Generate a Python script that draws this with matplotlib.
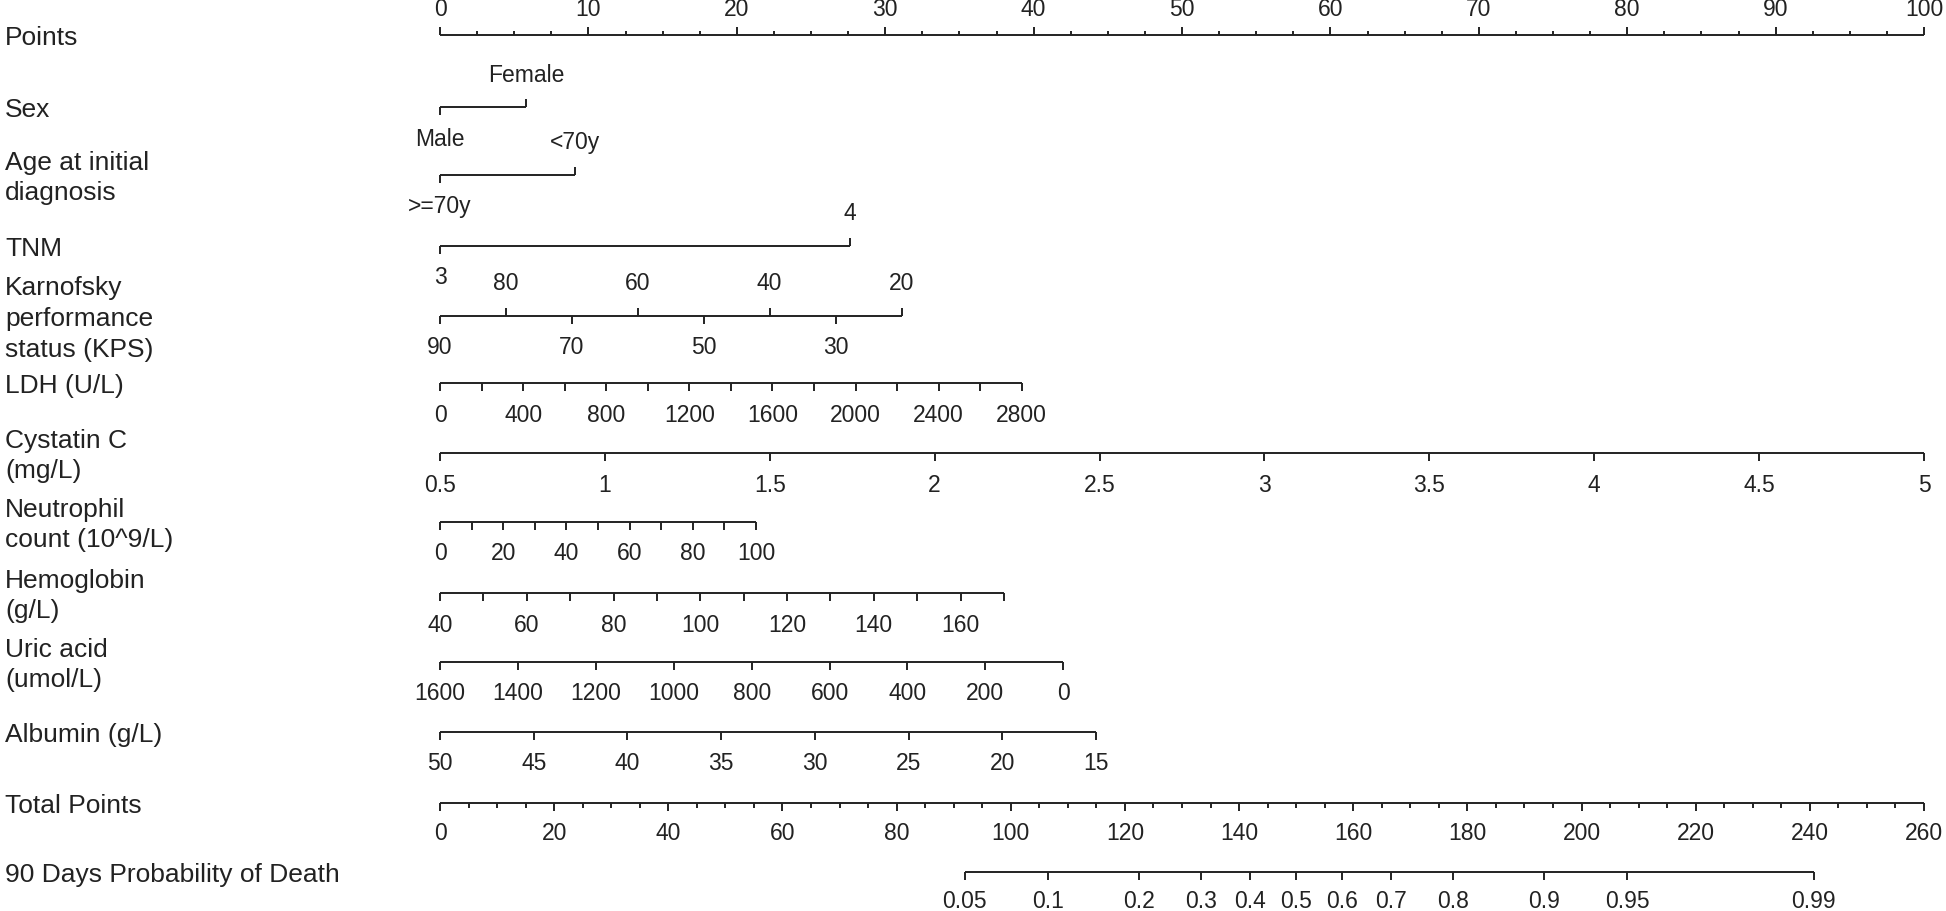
import numpy as np
import matplotlib.pyplot as plt

plt.rcParams['font.family'] = ['Liberation Sans', 'DejaVu Sans']

INK = "#222222"

# ---- values (points scale 0-100, total 0-260) ----
points_ticks = np.arange(0, 100.01, 2.5)
points_labels = list(range(0, 101, 10))
total_ticks = list(range(0, 261, 5))
total_labels = list(range(0, 261, 20))
total_max = 260

sex_labels = ["Male", "Female"]
sex_points = [0, 5.8]

age_labels = [">=70y", "<70y"]
age_points = [0, 9.1]

tnm_labels = ["3", "4"]
tnm_points = [0, 27.6]

kps_values = [90, 80, 70, 60, 50, 40, 30, 20]
kps_end = (90, 20, 31.1)          # value at 0 pts, value at end, end pts

ldh_ticks = list(range(0, 2801, 200))
ldh_labels = list(range(0, 2801, 400))
ldh_end = (0, 2800, 39.2)

cys_ticks = [0.5, 1, 1.5, 2, 2.5, 3, 3.5, 4, 4.5, 5]
cys_end = (0.5, 5, 100.0)

neut_ticks = list(range(0, 101, 10))
neut_labels = list(range(0, 101, 20))
neut_end = (0, 100, 21.3)

hgb_ticks = list(range(40, 171, 10))
hgb_labels = list(range(40, 161, 20))
hgb_end = (40, 170, 38.0)

uric_ticks = list(range(1600, -1, -200))
uric_end = (1600, 0, 42.0)

alb_ticks = [50, 45, 40, 35, 30, 25, 20, 15]
alb_end = (50, 15, 44.2)

prob_values = [0.05, 0.1, 0.2, 0.3, 0.4, 0.5, 0.6, 0.7, 0.8, 0.9, 0.95, 0.99]
prob_total = [91.9, 106.5, 122.5, 133.4, 141.9, 149.9, 158.1, 166.7, 177.5, 193.5, 208.0, 240.7]

row_names = ["Points", "Sex", "Age at initial\ndiagnosis", "TNM",
             "Karnofsky\nperformance\nstatus (KPS)", "LDH (U/L)", "Cystatin C\n(mg/L)",
             "Neutrophil\ncount (10^9/L)", "Hemoglobin\n(g/L)", "Uric acid\n(umol/L)",
             "Albumin (g/L)", "Total Points", "90 Days Probability of Death"]
row_y = [35, 107, 175, 246, 316, 383, 453, 522, 593, 662, 732, 803, 872]


def to_pts(v, end):
    v0, v1, p1 = end
    return (np.asarray(v, dtype=float) - v0) / (v1 - v0) * p1


def fmt(v):
    return ("%g" % v)


fig = plt.figure(figsize=(19.46, 9.11), dpi=100)
ax = fig.add_axes([0, 0, 1, 1])
px = 1484 / 100.0
ax.set_xlim(-440 / px, (1946 - 440) / px)
ax.set_ylim(911, 0)
ax.axis("off")

LW = 1.4
TL = 8      # tick length (px)
LAB_FS = 19
TICK_FS = 16.5


def scale(y, xs, labels=None, dirs=None, lens=None, label_off=32):
    xs = np.asarray(xs, dtype=float)
    ax.plot([xs.min(), xs.max()], [y, y], color=INK, lw=LW, solid_capstyle="butt")
    for i, x in enumerate(xs):
        d = 1 if dirs is None else dirs[i]
        L = TL if lens is None else lens[i]
        ax.plot([x, x], [y, y + d * L], color=INK, lw=LW, solid_capstyle="butt")
        if labels is not None and labels[i] is not None:
            ax.text(x, y + d * label_off, labels[i], ha="center", va="center",
                    fontsize=TICK_FS, color=INK)


for name, y in zip(row_names, row_y):
    ax.text(0.0026, y + 3, name, transform=ax.get_yaxis_transform(), ha="left",
            va="center", fontsize=LAB_FS, color=INK, linespacing=1.36)

# Points
maj = [abs(t % 10) < 1e-9 for t in points_ticks]
scale(row_y[0], points_ticks,
      [fmt(t) if m else None for t, m in zip(points_ticks, maj)],
      dirs=[-1] * len(points_ticks),
      lens=[TL if m else 4 for m in maj], label_off=26)

# categorical rows: first level below, second above
for k, (labs, pts) in enumerate([(sex_labels, sex_points), (age_labels, age_points),
                                 (tnm_labels, tnm_points)]):
    scale(row_y[1 + k], pts, labs, dirs=[1, -1])

# KPS: alternate below / above
kps_x = to_pts(kps_values, kps_end)
scale(row_y[4], kps_x, [str(v) for v in kps_values],
      dirs=[1 if i % 2 == 0 else -1 for i in range(len(kps_values))])

# continuous rows
cont = [(ldh_ticks, ldh_labels, ldh_end), (cys_ticks, cys_ticks, cys_end),
        (neut_ticks, neut_labels, neut_end), (hgb_ticks, hgb_labels, hgb_end),
        (uric_ticks, uric_ticks, uric_end), (alb_ticks, alb_ticks, alb_end)]
for k, (ticks, labs, end) in enumerate(cont):
    xs = to_pts(ticks, end)
    scale(row_y[5 + k], xs, [fmt(t) if t in labs else None for t in ticks])

# Total points
tx = np.asarray(total_ticks, dtype=float) * 100 / total_max
scale(row_y[11], tx, [str(t) if t in total_labels else None for t in total_ticks],
      lens=[TL if t in total_labels else 5 for t in total_ticks], label_off=31)

# Probability
qx = np.asarray(prob_total) * 100 / total_max
scale(row_y[12], qx, [fmt(v) for v in prob_values], label_off=30)

fig.savefig("out.png", dpi=100, facecolor="white")
